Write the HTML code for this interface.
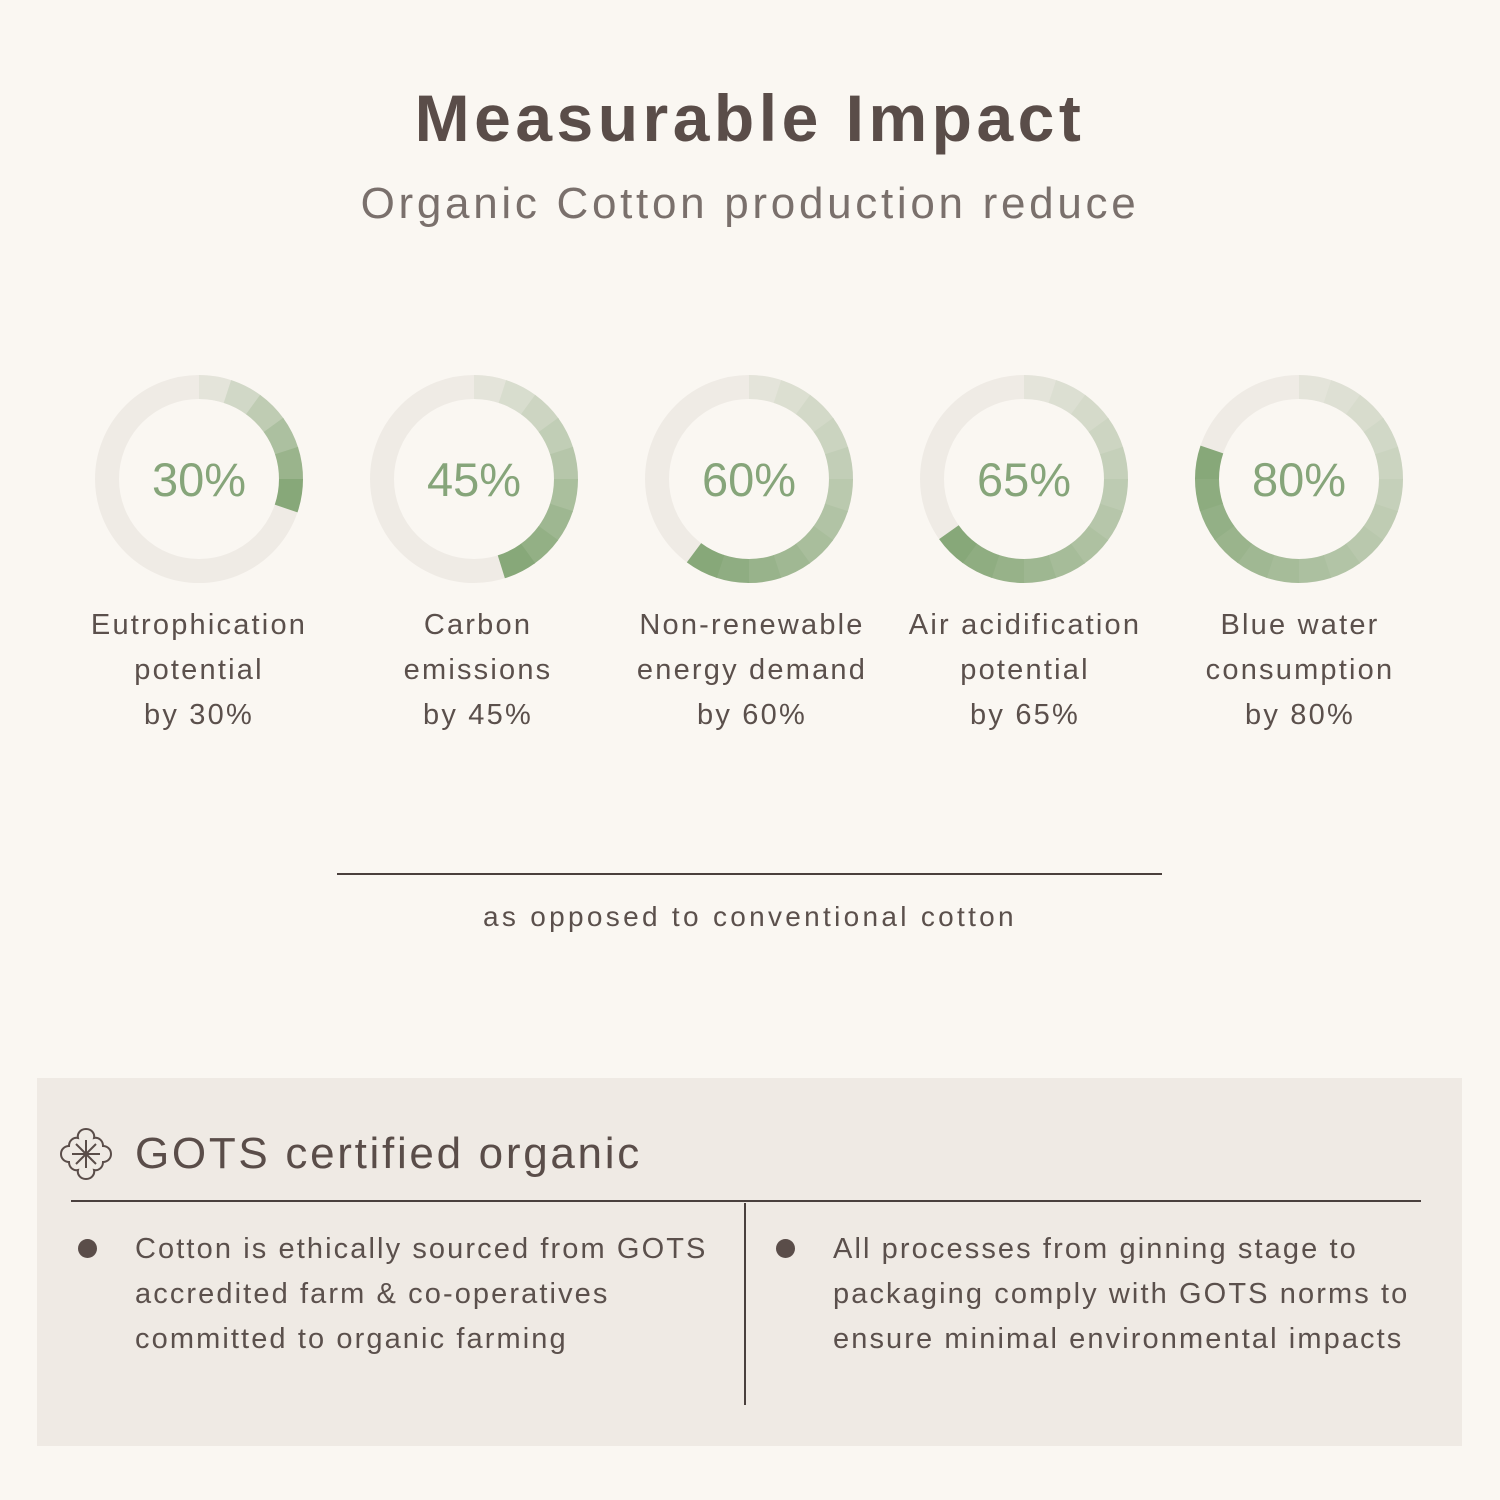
<!DOCTYPE html>
<html><head><style>
body{margin:0;width:1500px;height:1500px;background:#faf7f2;font-family:"Liberation Sans",sans-serif;position:relative;overflow:hidden;color:#5b504c}
.a{position:absolute;white-space:nowrap}
.c{text-align:center;transform:translateX(-50%)}
.lab{font-size:29px;line-height:45px;color:#5b504c;letter-spacing:2.2px}
.bt{font-size:29px;line-height:45px;color:#5b504c;letter-spacing:2.1px}
</style></head><body>
<div class="a c" style="left:750px;top:80px;font-size:66px;font-weight:bold;color:#5a4d49;letter-spacing:4.5px">Measurable Impact</div>
<div class="a c" style="left:750px;top:179px;font-size:44px;color:#7a706c;letter-spacing:3.7px">Organic Cotton production reduce</div>
<svg id="s" class="a" style="left:0;top:0" width="1500" height="620"></svg>
<div class="a c lab" style="left:199px;top:603px">Eutrophication<br>potential<br>by 30%</div>
<div class="a c lab" style="left:478px;top:603px">Carbon<br>emissions<br>by 45%</div>
<div class="a c lab" style="left:752px;top:603px">Non-renewable<br>energy demand<br>by 60%</div>
<div class="a c lab" style="left:1025px;top:603px">Air acidification<br>potential<br>by 65%</div>
<div class="a c lab" style="left:1300px;top:603px">Blue water<br>consumption<br>by 80%</div>
<div class="a" style="left:337px;top:873px;width:825px;height:2px;background:#4a403d"></div>
<div class="a c" style="left:750px;top:901px;font-size:28px;color:#5b504c;letter-spacing:3.3px">as opposed to conventional cotton</div>
<div class="a" style="left:37px;top:1078px;width:1425px;height:368px;background:#efeae4"></div>
<svg class="a" style="left:58px;top:1126px" width="56" height="56" viewBox="0 0 56 56" fill="none" stroke="#5a4d49" stroke-width="2">
<path d="M28 3c6 0 9 5 8 9 4-1 9 2 9 8 4 0 8 3 8 8s-4 8-8 8c0 6-5 9-9 8 1 4-2 9-8 9s-9-5-8-9c-4 1-9-2-9-8-4 0-8-3-8-8s4-8 8-8c0-6 5-9 9-8-1-4 2-9 8-9z"/>
<path d="M18 18l20 20M38 18L18 38M28 14v28M14 28h28"/></svg>
<div class="a" style="left:135px;top:1129px;font-size:44px;color:#5a4d49;letter-spacing:2.7px">GOTS certified organic</div>
<div class="a" style="left:71px;top:1200px;width:1350px;height:2px;background:#4a403d"></div>
<div class="a" style="left:744px;top:1203px;width:2px;height:202px;background:#4a403d"></div>
<div class="a" style="left:78px;top:1239px;width:19px;height:19px;border-radius:50%;background:#5a4d49"></div>
<div class="a" style="left:776px;top:1239px;width:19px;height:19px;border-radius:50%;background:#5a4d49"></div>
<div class="a bt" style="left:135px;top:1227px">Cotton is ethically sourced from GOTS<br>accredited farm &amp; co-operatives<br>committed to organic farming</div>
<div class="a bt" style="left:833px;top:1227px">All processes from ginning stage to<br>packaging comply with GOTS norms to<br>ensure minimal environmental impacts</div>
<script>
var s=document.getElementById('s'),ns='http://www.w3.org/2000/svg';
var xs=[199,474,749,1024,1299],ps=[30,45,60,65,80];
function pt(cx,cy,r,f){var a=f*2*Math.PI;return [cx+r*Math.sin(a),cy-r*Math.cos(a)];}
function col(t){var a=[228,228,218],b=[135,168,121];return 'rgb('+a.map((v,i)=>Math.round(v+(b[i]-v)*t)).join(',')+')';}
xs.forEach(function(cx,k){var cy=479,r=92;
var c=document.createElementNS(ns,'circle');c.setAttribute('cx',cx);c.setAttribute('cy',cy);c.setAttribute('r',r);c.setAttribute('fill','none');c.setAttribute('stroke','#efebe5');c.setAttribute('stroke-width',24);s.appendChild(c);
var n=ps[k]/5;for(var i=0;i<n;i++){var p1=pt(cx,cy,r,i*0.05),p2=pt(cx,cy,r,(i+1)*0.05+0.002);
var p=document.createElementNS(ns,'path');p.setAttribute('d','M'+p1+' A'+r+' '+r+' 0 0 1 '+p2);p.setAttribute('fill','none');p.setAttribute('stroke',col(n>1?i/(n-1):1));p.setAttribute('stroke-width',24);s.appendChild(p);}
var t=document.createElementNS(ns,'text');t.setAttribute('x',cx);t.setAttribute('y',cy+17);t.setAttribute('text-anchor','middle');t.setAttribute('font-size','47');t.setAttribute('fill','#86a57a');t.setAttribute('font-family','Liberation Sans, sans-serif');t.textContent=ps[k]+'%';s.appendChild(t);});
</script>
</body></html>
